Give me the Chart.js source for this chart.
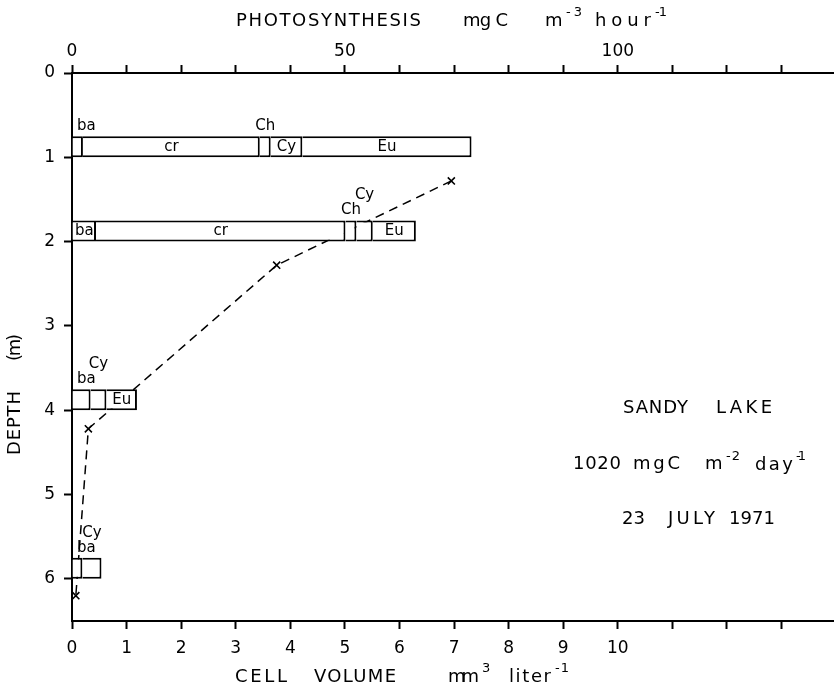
<!DOCTYPE html>
<html>
<head>
<meta charset="utf-8">
<script src="https://cdn.jsdelivr.net/npm/chart.js@4.4.1/dist/chart.umd.min.js"></script>
<style>
  html, body { margin: 0; padding: 0; background: #fff; }
  #wrap { width: 840px; height: 688px; }
</style>
</head>
<body>
<div id="wrap"><canvas id="lakeChart" width="840" height="688"></canvas></div>
<script>
// sampling depths (m), bar drawn over the 0.25 m above each depth
const depths = [1, 2, 4, 6];
const groupNames = ['ba', 'cr', 'Ch', 'Cy', 'Eu'];

// cell volume, mm3 per liter, one value per depth (null = not present)
const baVolume = [0.20, 0.44, 0.34, 0.19];
const crVolume = [3.24, 4.57, null, null];
const chVolume = [0.20, 0.20, null, null];
const cyVolume = [0.58, 0.30, 0.29, 0.35];
const euVolume = [3.10, 0.79, 0.56, null];

// photosynthesis, mgC m-3 hour-1
const photoDepth = [1.28, 2.28, 4.22, 6.20];
const photoRate = [69.5, 37.5, 3.0, 0.7];

const volumeTickLabels = ['0', '1', '2', '3', '4', '5', '6', '7', '8', '9', '10'];
const photoTickLabels = ['0', '50', '100'];
const depthTickLabels = ['0', '1', '2', '3', '4', '5', '6'];

const FONT = 'DejaVu Sans';
const BAR_SPAN = 0.25;
const volumes = [baVolume, crVolume, chVolume, cyVolume, euVolume];

Chart.defaults.font.family = FONT;
Chart.defaults.color = '#000';

const datasets = groupNames.map((name, g) => ({
  type: 'bar',
  label: name,
  data: depths.map((d, i) => ({ x: volumes[g][i], y: d - BAR_SPAN / 2 })),
  xAxisID: 'x',
  yAxisID: 'y',
  stack: 'cells',
  backgroundColor: '#fff',
  borderColor: '#000',
  borderWidth: { top: 2, right: 2, bottom: 2, left: 0 },
  borderSkipped: false,
  inflateAmount: 0,
  categoryPercentage: 1,
  barPercentage: BAR_SPAN,
  order: 1
}));

datasets.push({
  type: 'line',
  label: 'photosynthesis',
  data: photoDepth.map((d, i) => ({ x: photoRate[i], y: d })),
  xAxisID: 'x2',
  yAxisID: 'y',
  borderColor: '#000',
  borderWidth: 1.5,
  borderDash: [9, 6],
  fill: false,
  pointStyle: 'crossRot',
  pointRadius: 5,
  pointBorderWidth: 1.6,
  pointBorderColor: '#000',
  order: 10
});

// letter spaced text fitted between x0 and x1
function spaced(ctx, text, x0, x1, y, size) {
  ctx.font = size + 'px "' + FONT + '"';
  ctx.letterSpacing = '0px';
  const w = ctx.measureText(text).width;
  const ls = text.length > 1 ? (x1 - x0 - w) / (text.length - 1) : 0;
  ctx.letterSpacing = ls + 'px';
  ctx.textAlign = 'left';
  ctx.textBaseline = 'middle';
  ctx.fillText(text, x0, y);
  ctx.letterSpacing = '0px';
}

// [text, left, right, centre y, size]
const topTitle = [
  ['PHOTOSYNTHESIS', 236, 421, 21, 18],
  ['mg C', 463, 508, 21, 18],
  ['m', 545, 563, 21, 18],
  ['-3', 566, 582, 13, 13],
  ['hour', 595, 651, 21, 18],
  ['-1', 655, 667, 13, 13]
];
const bottomTitle = [
  ['CELL', 235, 287, 677, 18],
  ['VOLUME', 314, 396, 677, 18],
  ['mm', 448, 479, 677, 18],
  ['3', 482, 491, 669, 13],
  ['liter', 509, 551, 677, 18],
  ['-1', 555, 569, 669, 13]
];
const sideNotes = [
  ['SANDY', 623, 688, 408, 18],
  ['LAKE', 716, 772, 408, 18],
  ['1020', 573, 621, 464, 18],
  ['mgC', 633, 680, 464, 18],
  ['m', 705, 723, 464, 18],
  ['-2', 726, 740, 457, 13],
  ['day', 755, 793, 465, 18],
  ['-1', 796, 806, 457, 13],
  ['23', 622, 645, 519, 18],
  ['JULY', 668, 715, 519, 18],
  ['1971', 729, 775, 519, 18]
];

const textPlugin = {
  id: 'textPlugin',
  afterDatasetsDraw(chart) {
    const ctx = chart.ctx;
    const left = chart.chartArea.left;
    ctx.save();
    ctx.fillStyle = '#000';

    // group labels on the bars; narrow segments get the label above,
    // a second narrow one in a row is lifted higher
    const labelSize = 15;
    depths.forEach((d, i) => {
      let prevAbove = false;
      groupNames.forEach((name, g) => {
        if (volumes[g][i] == null) return;
        const bar = chart.getDatasetMeta(g).data[i];
        const x0 = Math.min(bar.base, bar.x);
        const x1 = Math.max(bar.base, bar.x);
        ctx.font = labelSize + 'px "' + FONT + '"';
        const tw = ctx.measureText(name).width;
        ctx.textBaseline = 'middle';
        ctx.textAlign = 'center';
        if (x1 - x0 >= tw + 4) {
          ctx.fillText(name, (x0 + x1) / 2, bar.y);
          prevAbove = false;
        } else {
          const top = bar.y - bar.height / 2;
          const ly = prevAbove ? top - 25 : top - 10;
          let cx = (x0 + x1) / 2;
          if (cx - tw / 2 < left + 5) cx = left + 5 + tw / 2;
          ctx.fillText(name, cx, ly);
          prevAbove = !prevAbove;
        }
      });
    });

    [topTitle, bottomTitle, sideNotes].forEach(list => {
      list.forEach(r => spaced(ctx, r[0], r[1], r[2], r[3], r[4]));
    });

    // depth title, rotated
    ctx.translate(15, 0);
    ctx.rotate(-Math.PI / 2);
    spaced(ctx, 'DEPTH', -455, -391, 0, 18);
    spaced(ctx, '(m)', -361, -334, 0, 18);
    ctx.restore();
  }
};

const axisBorder = { display: true, color: '#000', width: 2 };
const tickGrid = { drawOnChartArea: false, drawTicks: true, tickLength: 8, tickColor: '#000', tickWidth: 2, offset: false };
const tickFont = { family: FONT, size: 17 };

new Chart(document.getElementById('lakeChart'), {
  data: { datasets },
  options: {
    indexAxis: 'y',
    responsive: false,
    animation: false,
    devicePixelRatio: 1,
    layout: { padding: 0 },
    plugins: { legend: { display: false }, tooltip: { enabled: false } },
    scales: {
      x: {
        type: 'linear', position: 'bottom', min: 0, max: 13.95, stacked: true,
        border: axisBorder, grid: tickGrid,
        ticks: {
          stepSize: 1, includeBounds: false, autoSkip: false, maxRotation: 0,
          padding: 9, font: tickFont, color: '#000',
          callback: v => volumeTickLabels[Math.round(v)] ?? ''
        },
        afterFit: s => { s.height = 67; }
      },
      x2: {
        type: 'linear', position: 'top', min: 0, max: 139.5,
        border: axisBorder, grid: tickGrid,
        ticks: {
          stepSize: 10, includeBounds: false, autoSkip: false, maxRotation: 0,
          padding: 3, font: tickFont, color: '#000',
          callback: v => photoTickLabels.includes(String(Math.round(v))) ? String(Math.round(v)) : ''
        },
        afterFit: s => { s.height = 73; }
      },
      y: {
        type: 'linear', position: 'left', reverse: true, min: 0, max: 6.5, offset: false,
        stacked: true,
        border: axisBorder, grid: tickGrid,
        ticks: {
          stepSize: 1, includeBounds: false, autoSkip: false,
          padding: 9, font: tickFont, color: '#000',
          callback: v => depthTickLabels[Math.round(v)] ?? ''
        },
        afterFit: s => { s.width = 72; }
      }
    }
  },
  plugins: [textPlugin]
});
</script>
</body>
</html>
